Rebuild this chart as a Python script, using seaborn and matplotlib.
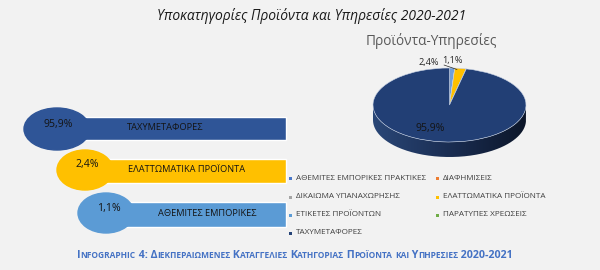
import numpy as np
import matplotlib
matplotlib.use("Agg")
import matplotlib.pyplot as plt
import seaborn as sns
from matplotlib.patches import Ellipse, Rectangle, PathPatch
from matplotlib.path import Path
from matplotlib.colors import LinearSegmentedColormap

sns.set_theme(style="white")
plt.rcParams['font.family'] = ['Open Sans', 'DejaVu Sans']

# ---------------- data ----------------
title = "Υποκατηγορίες Προϊόντα και Υπηρεσίες 2020-2021"
pie_title = "Προϊόντα-Υπηρεσίες"
bar_labels = ["ΤΑΧΥΜΕΤΑΦΟΡΕΣ", "ΕΛΑΤΤΩΜΑΤΙΚΑ ΠΡΟΪΟΝΤΑ", "ΑΘΕΜΙΤΕΣ ΕΜΠΟΡΙΚΕΣ"]
bar_shares = [95.9, 2.4, 1.1]
legend_labels = ["ΑΘΕΜΙΤΕΣ ΕΜΠΟΡΙΚΕΣ ΠΡΑΚΤΙΚΕΣ", "ΔΙΑΦΗΜΙΣΕΙΣ",
                 "ΔΙΚΑΙΩΜΑ ΥΠΑΝΑΧΩΡΗΣΗΣ", "ΕΛΑΤΤΩΜΑΤΙΚΑ ΠΡΟΪΟΝΤΑ",
                 "ΕΤΙΚΕΤΕΣ ΠΡΟΪΟΝΤΩΝ", "ΠΑΡΑΤΥΠΕΣ ΧΡΕΩΣΕΙΣ", "ΤΑΧΥΜΕΤΑΦΟΡΕΣ"]
pie_values = [1.1, 0.0, 0.0, 2.4, 0.0, 0.0, 95.9]
caption = "Infographic 4: Διεκπεραιωμενες Καταγγελιες Κατηγοριας Προϊοντα και Υπηρεσιες 2020-2021"

# ---------------- styles ----------------
legend_colors = ["#4a78c8", "#ed7d31", "#a5a5a5", "#ffc000", "#5b9bd5", "#70ad47", "#264478"]
pie_colors = ["#6f9fdc", "#ed7d31", "#a5a5a5", "#ffc000", "#5b9bd5", "#70ad47", "#223f75"]
bar_colors = ["#2f5597", "#ffc000", "#5b9bd5"]
BG = "#f2f2f2"
TXT = "#141414"

def pct(v):
    return f"{v:.1f}".replace(".", ",") + "%"

fig = plt.figure(figsize=(6, 2.7), dpi=100, facecolor=BG)
ax = fig.add_axes([0, 0, 1, 1])
ax.set_xlim(0, 600)
ax.set_ylim(270, 0)
ax.axis("off")

# ---------------- titles ----------------
ax.text(312, 16, title, ha="center", va="center", fontsize=10, style="italic",
        color="#1a1a1a")
ax.text(431, 41, pie_title, ha="center", va="center", fontsize=9.8, color="#595959")

# ---------------- left infographic ----------------
# layout: (ellipse cx, cy, w, h), (rect x0, y0, y1), pct pos, label pos
layout = [
    ((57, 129, 66, 42), (57, 117, 140), (58, 125), (165, 128)),
    ((85, 170, 56, 40), (100, 159, 183), (87, 165), (187, 170)),
    ((106, 213, 56, 40), (120, 202, 227), (109, 208), (207, 213)),
]
right_edge = 286
for i in range(len(bar_labels)):
    (ex, ey, ew, eh), (x0, y0, y1), (px, py), (lx, ly) = layout[i]
    ax.barh((y0 + y1) / 2, right_edge - x0, left=x0, height=y1 - y0,
            color=bar_colors[i], zorder=2 + i * 2)
    ax.add_patch(Ellipse((ex, ey), ew, eh, color=bar_colors[i], zorder=3 + i * 2))
    ax.text(px, py, pct(bar_shares[i]), ha="center", va="center", fontsize=7.6,
            color=TXT, zorder=10)
    ax.text(lx, ly, bar_labels[i], ha="center", va="center", fontsize=6.7,
            color=TXT, zorder=10)

# ---------------- legend ----------------
col_x = [290, 437]
row_y = [178, 197, 215, 233]
for k, lab in enumerate(legend_labels):
    r, c = divmod(k, 2)
    mx, my = col_x[c], row_y[r]
    ax.add_patch(Rectangle((mx - 1.5, my - 1.5), 3, 3, color=legend_colors[k], lw=0))
    ax.text(mx + 6, my, lab, ha="left", va="center", fontsize=5.9, color="#404040")

# ---------------- 3D-like pie ----------------
cx, cy, rx, ry, depth = 449.5, 105, 76.5, 37, 15
d = depth / ry
m = 0.05
ax_w = (2 + 2 * m) * rx
ax_h = (2 + 2 * m + d) * ry
ax_left = cx - (1 + m) * rx
ax_top = cy - (1 + m) * ry
pax = fig.add_axes([ax_left / 600, (270 - ax_top - ax_h) / 270, ax_w / 600, ax_h / 270])
pax.pie(pie_values, colors=pie_colors, startangle=90, counterclock=False, radius=1,
        wedgeprops=dict(edgecolor="#c9d4e6", linewidth=0.4))
pax.set_aspect("auto")
pax.axis("off")

t = np.linspace(np.pi, 2 * np.pi, 200)
xs = np.concatenate([np.cos(t), np.cos(t[::-1])])
ys = np.concatenate([np.sin(t), np.sin(t[::-1]) - d])
side = PathPatch(Path(np.column_stack([xs, ys])), facecolor="none", edgecolor="none")
pax.add_patch(side)
grad = np.linspace(0, 1, 256).reshape(1, -1)
cmap = LinearSegmentedColormap.from_list("side", ["#2a4777", "#1a2d52", "#0c1629"])
im = pax.imshow(grad, extent=(-1, 1, -1 - d, 0), aspect="auto", cmap=cmap, zorder=0.5)
im.set_clip_path(side)
pax.set_xlim(-1 - m, 1 + m)
pax.set_ylim(-1 - m - d, 1 + m)

# overlay for texts on top of the pie
ax2 = fig.add_axes([0, 0, 1, 1])
ax2.set_xlim(0, 600)
ax2.set_ylim(270, 0)
ax2.axis("off")
ax2.patch.set_alpha(0)
ax2.text(429, 62, pct(pie_values[3]), ha="center", va="center", fontsize=6.6, color="#262626")
ax2.text(452, 61, pct(pie_values[0]), ha="center", va="center", fontsize=6.6, color="#262626")
ax2.plot([444, 457], [65, 69.5], color="#262626", lw=0.5)
ax2.text(430, 128, pct(pie_values[6]), ha="center", va="center", fontsize=7.6, color=TXT)

# ---------------- caption in small caps ----------------
renderer = fig.canvas.get_renderer()
big, small = 7.7, 6.0
runs = []
for ch in caption:
    if ch.isalpha() and ch.islower():
        s, size = ch.upper(), small
    else:
        s, size = ch, big
    if runs and runs[-1][1] == size:
        runs[-1][0] += s
    else:
        runs.append([s, size])
objs = []
for s, size in runs:
    tt = ax2.text(0, 258, s, ha="left", va="baseline", fontsize=size,
                  fontweight="bold", color="#4472c4")
    objs.append(tt)
widths = [o.get_window_extent(renderer).width for o in objs]
total = sum(widths)
x = 295 - total / 2
for o, w in zip(objs, widths):
    o.set_x(x)
    x += w

fig.savefig("out.png", dpi=100, facecolor=BG)
